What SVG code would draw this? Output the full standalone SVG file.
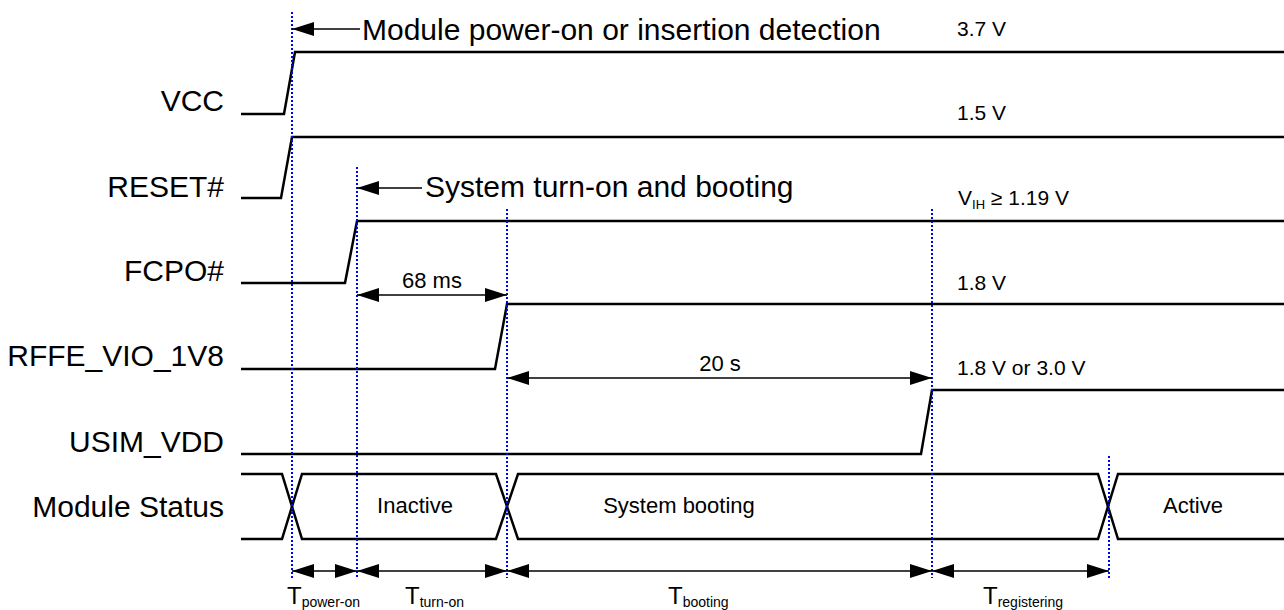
<svg xmlns="http://www.w3.org/2000/svg" width="1284" height="610" viewBox="0 0 1284 610">
  <style>
    .sig { fill: none; stroke: #000; stroke-width: 2.5; stroke-linejoin: miter; }
    .dash { fill: none; stroke: #0000ff; stroke-width: 2; stroke-dasharray: 2 2; }
    .arr { fill: none; stroke: #000; stroke-width: 1.5; }
    .lbl { font-family: "Liberation Sans", Arial, sans-serif; font-size: 30px; fill: #000; }
    .big { font-family: "Liberation Sans", Arial, sans-serif; font-size: 30px; fill: #000; }
    .val { font-family: "Liberation Sans", Arial, sans-serif; font-size: 21px; fill: #000; }
    .st { font-family: "Liberation Sans", Arial, sans-serif; font-size: 22px; fill: #000; }
    .t { font-family: "Liberation Sans", Arial, sans-serif; font-size: 24px; fill: #000; }
    .sub { font-size: 14px; }
  </style>
  <defs>
    <marker id="ah" viewBox="0 0 22 14" refX="22" refY="7" markerWidth="22" markerHeight="14" markerUnits="userSpaceOnUse" orient="auto-start-reverse">
      <path d="M0,0 L22,7 L0,14 Z" fill="#000"/>
    </marker>
  </defs>
  <rect width="1284" height="610" fill="#fff"/>

  <g id="labels">
    <text class="lbl" x="224" y="111" text-anchor="end">VCC</text>
    <text class="lbl" x="224" y="197" text-anchor="end">RESET#</text>
    <text class="lbl" x="224" y="281" text-anchor="end">FCPO#</text>
    <text class="lbl" x="224" y="366" text-anchor="end">RFFE_VIO_1V8</text>
    <text class="lbl" x="224" y="452" text-anchor="end">USIM_VDD</text>
    <text class="lbl" x="224" y="517" text-anchor="end">Module Status</text>
  </g>

  <g id="sig-vcc">
    <polyline class="sig" points="241,114 284,114 295,52 1284,52"/>
    <text class="val" x="957" y="36">3.7 V</text>
  </g>
  <g id="sig-reset">
    <polyline class="sig" points="241,198 281,198 292,137 1284,137"/>
    <text class="val" x="957" y="120">1.5 V</text>
  </g>
  <g id="sig-fcpo">
    <polyline class="sig" points="241,283 345,283 357,221 1284,221"/>
    <text class="val" x="958" y="205">V<tspan font-size="13" dy="4">IH</tspan><tspan dy="-4"> ≥ 1.19 V</tspan></text>
  </g>
  <g id="sig-rffe">
    <polyline class="sig" points="241,369 495,369 507,304 1284,304"/>
    <text class="val" x="957" y="290">1.8 V</text>
  </g>
  <g id="sig-usim">
    <polyline class="sig" points="241,454 921,454 932,390 1284,390"/>
    <text class="val" x="957" y="375">1.8 V or 3.0 V</text>
  </g>
  <g id="sig-status">
    <polyline class="sig" points="241,474 282,474 302,539 496,539 518,474 1098,474 1118,539 1284,539"/>
    <polyline class="sig" points="241,539 282,539 302,474 496,474 518,539 1098,539 1118,474 1284,474"/>
    <text class="st" x="415" y="513" text-anchor="middle">Inactive</text>
    <text class="st" x="679" y="513" text-anchor="middle">System booting</text>
    <text class="st" x="1193" y="513" text-anchor="middle">Active</text>
  </g>

  <g id="connectors">
    <line class="dash" x1="292" y1="12" x2="292" y2="578"/>
    <line class="dash" x1="357" y1="167" x2="357" y2="578"/>
    <line class="dash" x1="507" y1="209" x2="507" y2="578"/>
    <line class="dash" x1="932" y1="209" x2="932" y2="578"/>
    <line class="dash" x1="1109" y1="456" x2="1109" y2="580"/>

    <line class="arr" x1="360" y1="29" x2="292" y2="29" marker-end="url(#ah)"/>
    <line class="arr" x1="422" y1="188" x2="357" y2="188" marker-end="url(#ah)"/>
    <line class="arr" x1="357" y1="295" x2="507" y2="295" marker-start="url(#ah)" marker-end="url(#ah)"/>
    <line class="arr" x1="507" y1="378" x2="932" y2="378" marker-start="url(#ah)" marker-end="url(#ah)"/>

    <line class="arr" x1="292" y1="571" x2="357" y2="571" marker-start="url(#ah)" marker-end="url(#ah)"/>
    <line class="arr" x1="357" y1="571" x2="507" y2="571" marker-start="url(#ah)" marker-end="url(#ah)"/>
    <line class="arr" x1="507" y1="571" x2="932" y2="571" marker-start="url(#ah)" marker-end="url(#ah)"/>
    <line class="arr" x1="932" y1="571" x2="1109" y2="571" marker-start="url(#ah)" marker-end="url(#ah)"/>
  </g>

  <g id="annotations">
    <text class="big" x="362" y="40">Module power-on or insertion detection</text>
    <text class="big" x="425" y="197">System turn-on and booting</text>
    <text class="st" x="432" y="288" text-anchor="middle">68 ms</text>
    <text class="st" x="720" y="371" text-anchor="middle">20 s</text>
    <text class="t" x="287" y="604">T<tspan class="sub" dy="3">power-on</tspan></text>
    <text class="t" x="405" y="604">T<tspan class="sub" dy="3">turn-on</tspan></text>
    <text class="t" x="668" y="604">T<tspan class="sub" dy="3">booting</tspan></text>
    <text class="t" x="983" y="604">T<tspan class="sub" dy="3">registering</tspan></text>
  </g>
</svg>
